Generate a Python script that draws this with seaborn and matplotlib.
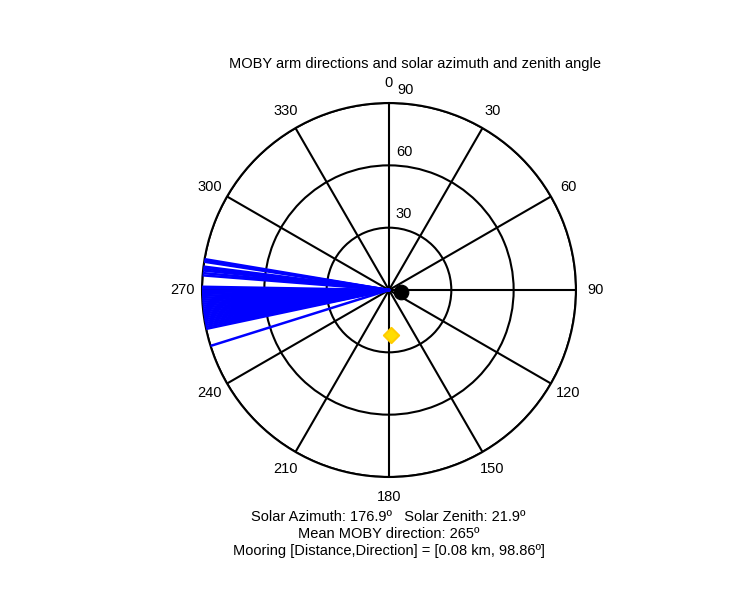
import numpy as np
import matplotlib
matplotlib.use("Agg")
import matplotlib.pyplot as plt
import seaborn as sns

sns.set_style("white")
plt.rcParams['font.family'] = ['Liberation Sans', 'DejaVu Sans']
plt.rcParams['text.color'] = 'black'

arm_dirs = [279.5, 279.0, 278.7, 277.2, 276.6, 276.0, 275.2, 274.5,
            271.0, 270.5, 270.0, 269.4, 268.8, 268.2, 267.6, 267.0, 266.4,
            265.8, 265.2, 264.6, 264.0, 263.4, 262.8, 262.2, 261.6, 261.0,
            260.4, 259.8, 259.2, 258.6, 258.0, 252.6]
solar_az = 176.9
solar_zen = 21.9
mooring_dir = 98.86
mooring_r = 6.0
mean_dir = 265
theta_labels = [0, 30, 60, 90, 120, 150, 180, 210, 240, 270, 300, 330]
r_labels = [30, 60, 90]

fig = plt.figure(figsize=(7.5, 6), dpi=100)
ax = fig.add_axes([0.2693, 0.205, 0.4987, 0.6233], projection='polar')
ax.set_theta_zero_location('N')
ax.set_theta_direction(-1)
ax.set_ylim(0, 90)
ax.set_yticks(r_labels)
ax.set_yticklabels([])
ax.set_xticks(np.deg2rad(theta_labels))
ax.set_xticklabels([])
ax.grid(True, color='black', linewidth=1.5, linestyle='-')
ax.spines['polar'].set_color('black')
ax.spines['polar'].set_linewidth(1.5)

for d in arm_dirs:
    t = np.deg2rad(d)
    ax.plot([t, t], [0, 90], color='blue', linewidth=1.8, zorder=3)

sns.scatterplot(x=[np.deg2rad(mooring_dir)], y=[mooring_r], ax=ax, color='black',
                s=110, zorder=5, edgecolor='black', legend=False)
sns.scatterplot(x=[np.deg2rad(solar_az)], y=[solar_zen], ax=ax, color='#ffdd00',
                marker='D', s=60, zorder=5, edgecolor='#ffcc00', linewidth=1.5, legend=False)

for a in theta_labels:
    ax.text(np.deg2rad(a), 99.5, str(a), ha='center', va='center', fontsize=10.5, clip_on=False)
for r, (ang, rr) in zip(r_labels, [(11.2, 37.3), (6.2, 66.8), (4.6, 96.5)]):
    ax.text(np.deg2rad(ang), rr, str(r), ha='center', va='center', fontsize=10.5, clip_on=False)

fig.text(0.553, 0.893, 'MOBY arm directions and solar azimuth and zenith angle',
         ha='center', va='center', fontsize=10.5)
fig.text(0.518, 0.138, f'Solar Azimuth: {solar_az}\u00ba   Solar Zenith: {solar_zen}\u00ba',
         ha='center', va='center', fontsize=10.5)
fig.text(0.518, 0.110, f'Mean MOBY direction: {mean_dir}\u00ba',
         ha='center', va='center', fontsize=10.5)
fig.text(0.518, 0.082, 'Mooring [Distance,Direction] = [0.08 km, 98.86\u00ba]',
         ha='center', va='center', fontsize=10.5)

fig.savefig('out.png', dpi=100)
